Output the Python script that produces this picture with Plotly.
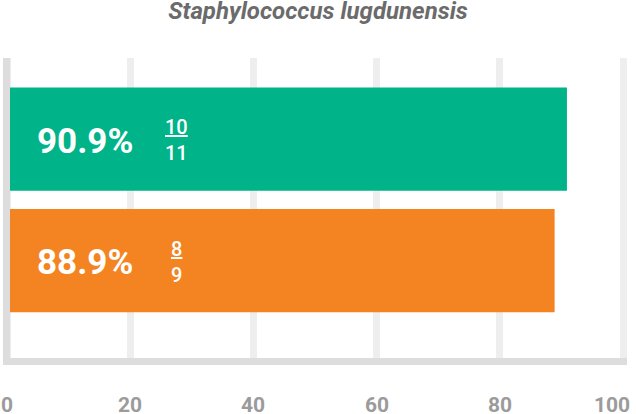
"""
Horizontal bar chart: susceptibility for Staphylococcus lugdunensis
"""
import plotly.graph_objects as go

title_text = "Staphylococcus lugdunensis"
categories = ["Series A", "Series B"]
percent_values = [90.9, 88.9]
numerators = [10, 8]
denominators = [11, 9]
bar_colors = ["#01B388", "#F48422"]
tick_values = [0, 20, 40, 60, 80, 100]
tick_labels = ["0", "20", "40", "60", "80", "100"]

W, H = 636, 414
M_L, M_R, M_T, M_B = 3, 9, 58, 49
plot_w = W - M_L - M_R
plot_h = H - M_T - M_B
AXIS_W = 7
FONT = "Roboto"

fig = go.Figure()

fig.add_trace(
    go.Bar(
        x=percent_values,
        y=categories,
        orientation="h",
        marker=dict(color=bar_colors, line=dict(width=0)),
        width=0.85,
        hoverinfo="skip",
        showlegend=False,
    )
)

# percentage + fraction labels inside each bar
for cat, pct, num, den in zip(categories, percent_values, numerators, denominators):
    fig.add_annotation(
        x=0, y=cat, xref="x", yref="y",
        text=f"{pct:.1f}%",
        showarrow=False, xanchor="left", yanchor="middle",
        xshift=28, yshift=-2,
        font=dict(family=FONT, size=35, color="white", weight=700),
    )
    fig.add_annotation(
        x=0, y=cat, xref="x", yref="y",
        text=f"<u>{num}</u><br>{den}",
        showarrow=False, xanchor="center", yanchor="middle",
        xshift=169, yshift=-1,
        font=dict(family=FONT, size=20, color="white", weight=500),
    )

# tick labels as annotations (last one kept inside the page)
for val, lab in zip(tick_values, tick_labels):
    last = val == tick_values[-1]
    fig.add_annotation(
        x=val, y=0, xref="x", yref="paper",
        text=lab,
        showarrow=False,
        xanchor="right" if last else "center",
        yanchor="top",
        xshift=9 if last else 0,
        yshift=-26,
        font=dict(family=FONT, size=21, color="#9B9B9B", weight=700),
    )

# L-shaped axis lines
fig.add_shape(type="rect", xref="paper", yref="paper",
              x0=0, x1=AXIS_W / plot_w, y0=0, y1=1,
              fillcolor="#DDDDDD", line=dict(width=0), layer="above")
fig.add_shape(type="rect", xref="paper", yref="paper",
              x0=0, x1=1, y0=0, y1=AXIS_W / plot_h,
              fillcolor="#DDDDDD", line=dict(width=0), layer="above")

fig.update_layout(
    width=W, height=H,
    margin=dict(l=M_L, r=M_R, t=M_T, b=M_B, pad=0),
    paper_bgcolor="white",
    plot_bgcolor="white",
    title=dict(
        text=title_text,
        x=0.5, xanchor="center",
        y=0.975, yref="container", yanchor="middle",
        font=dict(family=FONT, size=24, color="#6B6B6B", style="italic", weight=700),
    ),
    xaxis=dict(
        range=[-0.65, 100.65],
        tickvals=tick_values,
        showticklabels=False,
        showgrid=True, gridcolor="#EEEEEE", gridwidth=7,
        zeroline=False, showline=False, fixedrange=True,
    ),
    yaxis=dict(
        categoryorder="array", categoryarray=categories,
        range=[1.86, -0.667],
        showticklabels=False, showgrid=False,
        zeroline=False, showline=False, fixedrange=True,
    ),
    bargap=0.15,
)

# page body margin would shift the fixed-size figure
fig.write_html("out.html", config={"displayModeBar": False},
               post_script="document.body.style.margin='0';")
